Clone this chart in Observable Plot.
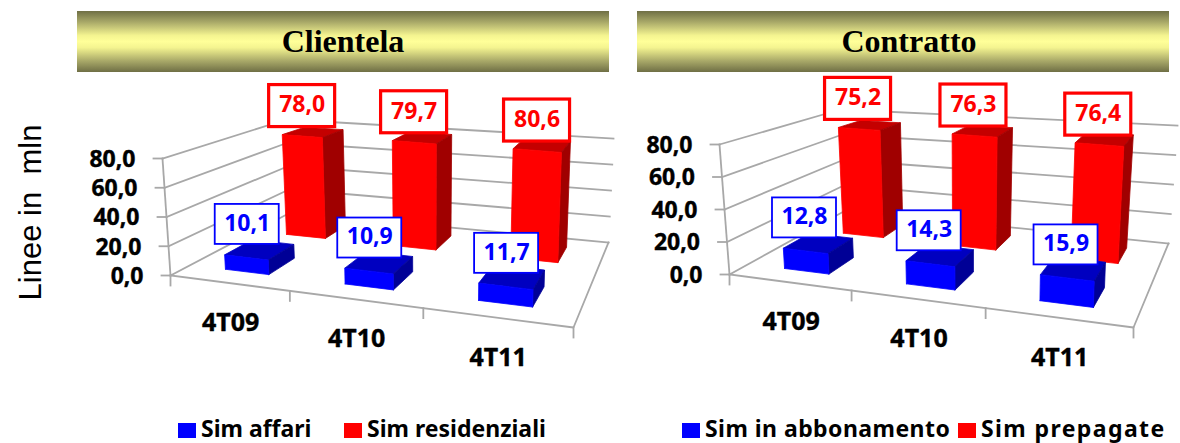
<!DOCTYPE html>
<html><head><meta charset="utf-8">
<script src="https://cdn.jsdelivr.net/npm/d3@7"></script>
<script src="https://cdn.jsdelivr.net/npm/@observablehq/plot@0.6"></script>
<style>
html,body{margin:0;padding:0;background:#fff;overflow:hidden}
#page{position:relative;width:1180px;height:443px}
.band{position:absolute;top:11px;height:61px;width:532px;text-align:center;box-sizing:border-box;
 font:bold 32px "Liberation Serif",serif;line-height:60px;color:#000;
 background:linear-gradient(to bottom,#6f6f45 0%,#a8a868 18%,#f4f490 40%,#ffff99 50%,#f4f490 60%,#a8a868 82%,#6f6f45 100%)}
#chart{position:absolute;left:0;top:72px}
#chart svg{display:block}
.sw{position:absolute;top:423px;width:18px;height:15px}
.lg{position:absolute;top:412px;font:bold 23px "Noto Sans",sans-serif;line-height:32px;white-space:pre;color:#000}
</style></head><body>
<div id="page">
<div class="band" style="left:77px">Clientela</div>
<div class="band" style="left:637px;padding-left:12px">Contratto</div>
<div id="chart"></div>
<div class="sw" style="left:178px;background:#0000ff"></div><div class="lg" style="left:201px">Sim affari</div>
<div class="sw" style="left:344px;background:#ff0000"></div><div class="lg" style="left:367px">Sim residenziali</div>
<div class="sw" style="left:682px;background:#0000ff"></div><div class="lg" style="left:705px;letter-spacing:.45px">Sim in abbonamento</div>
<div class="sw" style="left:958px;background:#ff0000"></div><div class="lg" style="left:981px;letter-spacing:1.4px">Sim prepagate</div>
</div>
<script>
const categories = ["4T09", "4T10", "4T11"];
const axisTicks = [0, 20, 40, 60, 80];
const clientelaAffari = [10.1, 10.9, 11.7];
const clientelaResidenziali = [78.0, 79.7, 80.6];
const contrattoAbbonamento = [12.8, 14.3, 15.9];
const contrattoPrepagate = [75.2, 76.3, 76.4];

// Perspective box of each panel: four floor corners and four corners at the axis maximum (FL, FR, BR, BL)
const boxClientela = {
  floor: [[170,275],[573,327],[608,242],[290,212]],
  top:   [[162,158],[577,205],[613,138],[286,119]]
};
const boxContratto = {
  floor: [[729,274],[1133,327],[1168,243],[845,210]],
  top:   [[719,144],[1138,192],[1177,125],[840,109]]
};
const axisMax = 80;

function homography([p00,p10,p11,p01]) {
  const [x0,y0]=p00,[x1,y1]=p10,[x2,y2]=p11,[x3,y3]=p01;
  const sx=x0-x1+x2-x3, sy=y0-y1+y2-y3, dx1=x1-x2, dx2=x3-x2, dy1=y1-y2, dy2=y3-y2;
  const det=dx1*dy2-dx2*dy1, g=(sx*dy2-dx2*sy)/det, h=(dx1*sy-sx*dy1)/det;
  const a=x1-x0+g*x1, b=x3-x0+h*x3, d=y1-y0+g*y1, e=y3-y0+h*y3;
  return (u,v)=>{const w=1+g*u+h*v; return [(x0+a*u+b*v)/w,(y0+d*u+e*v)/w];};
}
function projector(box){
  const F=homography(box.floor);
  const rise=box.top.map((p,i)=>[p[0]-box.floor[i][0],p[1]-box.floor[i][1]]);
  const bil=(k,u,v)=>(1-v)*((1-u)*rise[0][k]+u*rise[1][k])+v*((1-u)*rise[3][k]+u*rise[2][k]);
  return (u,v,val)=>{const [a,b]=F(u,v),t=val/axisMax; return [a+bil(0,u,v)*t,b+bil(1,u,v)*t];};
}

const halfBar = 0.0625, seriesBand = [[0.135,0.35],[0.65,0.87]];
const shades = [
  {front:"#0000ff",top:"#0000c0",side:"#000096",ink:"#0000ff"},
  {front:"#ff0000",top:"#c40000",side:"#a00000",ink:"#ff0000"}
];
const fmt = v => d3.format(".1f")(v).replace(".", ",");

const faces=[], gridLines=[], axisLabels=[], catLabels=[], boxes=[];
let fid=0;
function addPanel(box, blue, red, labelShift){
  const P=projector(box);
  for(const t of axisTicks){
    const id="g"+(fid++);
    [P(0,0,t),P(0,1,t),P(1,1,t)].forEach(([x,y])=>gridLines.push({id,x,y}));
    const [tx,ty]=P(0,0,t);
    const tid="t"+(fid++);
    gridLines.push({id:tid,x:tx-9,y:ty},{id:tid,x:tx,y:ty});
    axisLabels.push({x:tx,y:ty,text:fmt(t)});
  }
  const fl="f"+(fid++);
  [P(0,0,0),P(1,0,0),P(1,1,0)].forEach(([x,y])=>gridLines.push({id:fl,x,y}));
  const ax="a"+(fid++);
  [P(0,0,0),P(0,0,axisMax)].forEach(([x,y])=>gridLines.push({id:ax,x,y}));
  for(const i of [0,1,2,3]){
    const [x,y]=P(i/3,0,0), id="c"+(fid++);
    gridLines.push({id,x,y},{id,x,y:y+10});
  }
  categories.forEach((c,i)=>{
    const [x,y]=P((i+0.5)/3,0,0);
    catLabels.push({x,y,text:c});
  });
  [[1,red],[0,blue]].forEach(([s,vals])=>{
    vals.forEach((val,i)=>{
      const uc=(i+0.5)/3,u0=uc-halfBar,u1=uc+halfBar,[v0,v1]=seriesBand[s],c=shades[s];
      const poly=(pts,fill)=>{const id="b"+(fid++);[...pts,pts[0]].forEach(([x,y])=>faces.push({id,x,y,fill}));};
      poly([P(u0,v1,val),P(u1,v1,val),P(u1,v0,val),P(u0,v0,val)],c.top);
      poly([P(u1,v0,0),P(u1,v1,0),P(u1,v1,val),P(u1,v0,val)],c.side);
      poly([P(u0,v0,0),P(u1,v0,0),P(u1,v0,val),P(u0,v0,val)],c.front);
      const [tx,ty]=P(uc,v0,val);
      boxes.push({series:s,x:tx+labelShift[s][0],y:ty+labelShift[s][1],text:fmt(val)});
    });
  });
}
addPanel(boxClientela, clientelaAffari, clientelaResidenziali, [[1,-33],[0,-30]]);
addPanel(boxContratto, contrattoAbbonamento, contrattoPrepagate, [[-1,-33],[-1,-30]]);

const face = '"Noto Sans",sans-serif';
const redB=boxes.filter(d=>d.series===1), blueB=boxes.filter(d=>d.series===0);
const hw=32, hh=[20,21];
const plot=Plot.plot({
  width:1180,height:338,margin:0,
  x:{domain:[0,1180],range:[0,1180],axis:null},
  y:{domain:[72,410],range:[0,338],axis:null},
  color:{type:"identity"},
  style:{background:"transparent",overflow:"visible"},
  marks:[
    Plot.line(gridLines,{x:"x",y:"y",z:"id",stroke:"#a8a8a8",strokeWidth:1.8,strokeLinecap:"square"}),
    Plot.line(faces,{x:"x",y:"y",z:"id",fill:"fill",stroke:"fill",strokeWidth:0.8}),
    Plot.rect(redB,{x1:d=>d.x-hw-1,x2:d=>d.x+hw+1,y1:d=>d.y-hh[1],y2:d=>d.y+hh[1],fill:"#fff",stroke:"#ff0000",strokeWidth:3.2}),
    Plot.rect(blueB,{x1:d=>d.x-hw,x2:d=>d.x+hw,y1:d=>d.y-hh[0],y2:d=>d.y+hh[0],fill:"#fff",stroke:"#0000ff",strokeWidth:1.8}),
    Plot.text(boxes,{x:"x",y:"y",text:"text",fill:d=>shades[d.series].ink,fontFamily:face,fontWeight:700,fontSize:23,dy:-1}),
    Plot.text(axisLabels,{x:"x",y:"y",text:"text",textAnchor:"end",dx:-27,dy:1,fill:"#000",stroke:"#000",strokeWidth:0.4,fontFamily:face,fontWeight:700,fontSize:23}),
    Plot.text(catLabels,{x:"x",y:"y",text:"text",dx:2,dy:40,fill:"#000",stroke:"#000",strokeWidth:0.4,fontFamily:face,fontWeight:700,fontSize:25}),
    Plot.text(["Linee in  mln"],{x:()=>31,y:()=>212,text:d=>d,rotate:-90,fill:"#000",fontFamily:'"Liberation Sans",sans-serif',fontSize:31,fontWeight:400})
  ]
});
document.getElementById("chart").appendChild(plot);
</script>
</body></html>
